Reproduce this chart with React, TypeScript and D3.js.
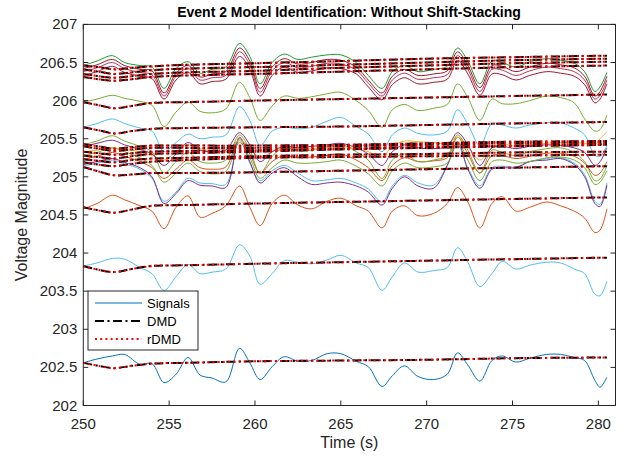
import React from 'react';
import * as d3 from 'd3';

// Sample times (s) shared by every measured signal
const TIME = [250, 250.8, 251.7, 252.4, 253.3, 254.0, 254.7, 255.4, 256.1, 256.8, 257.5, 258.3, 259.1, 259.7, 260.3, 261.0, 261.7, 262.5, 263.3, 264.2, 265.0, 265.9, 266.6, 267.4, 268.0, 268.7, 269.5, 270.4, 271.2, 271.8, 272.4, 273.1, 273.8, 274.4, 275.2, 276.0, 277.0, 277.8, 278.6, 279.2, 279.8, 280.1, 280.5];

// Measured voltage magnitudes
const SIG_GREEN_TOP = [206.46, 206.52, 206.59, 206.50, 206.46, 206.44, 206.16, 206.42, 206.51, 206.36, 206.41, 206.44, 206.75, 206.58, 206.22, 206.50, 206.61, 206.54, 206.57, 206.60, 206.60, 206.50, 206.33, 206.16, 206.38, 206.46, 206.38, 206.41, 206.45, 206.69, 206.52, 206.22, 206.52, 206.50, 206.44, 206.51, 206.55, 206.53, 206.49, 206.38, 206.12, 206.18, 206.37];
const SIG_RED_1 = [206.42, 206.47, 206.54, 206.46, 206.41, 206.39, 206.10, 206.36, 206.46, 206.31, 206.35, 206.38, 206.69, 206.52, 206.16, 206.44, 206.55, 206.48, 206.50, 206.54, 206.53, 206.44, 206.27, 206.10, 206.32, 206.41, 206.33, 206.35, 206.39, 206.64, 206.46, 206.17, 206.46, 206.45, 206.38, 206.44, 206.49, 206.47, 206.43, 206.32, 206.06, 206.12, 206.32];
const SIG_RED_2 = [206.38, 206.43, 206.50, 206.42, 206.37, 206.34, 206.06, 206.32, 206.42, 206.27, 206.30, 206.33, 206.64, 206.47, 206.11, 206.39, 206.50, 206.43, 206.45, 206.49, 206.48, 206.40, 206.23, 206.06, 206.27, 206.36, 206.28, 206.30, 206.34, 206.59, 206.41, 206.12, 206.41, 206.40, 206.33, 206.39, 206.44, 206.42, 206.38, 206.27, 206.02, 206.07, 206.27];
const SIG_RED_3 = [206.33, 206.38, 206.45, 206.37, 206.32, 206.29, 206.02, 206.27, 206.37, 206.22, 206.25, 206.28, 206.58, 206.41, 206.06, 206.33, 206.44, 206.37, 206.39, 206.43, 206.42, 206.35, 206.18, 206.01, 206.21, 206.30, 206.22, 206.24, 206.28, 206.53, 206.35, 206.07, 206.35, 206.34, 206.27, 206.33, 206.38, 206.36, 206.32, 206.21, 205.97, 206.02, 206.22];
const SIG_LIME = [205.98, 206.02, 206.07, 206.03, 205.99, 205.94, 205.66, 205.85, 205.98, 205.86, 205.84, 205.89, 206.24, 206.04, 205.74, 205.93, 206.06, 206.03, 206.05, 206.09, 206.11, 206.00, 205.87, 205.65, 205.88, 205.95, 205.87, 205.90, 205.95, 206.22, 206.04, 205.74, 206.02, 205.96, 205.96, 206.00, 206.06, 206.04, 205.97, 205.76, 205.60, 205.62, 205.81];
const SIG_SKY = [205.65, 205.70, 205.76, 205.70, 205.64, 205.60, 205.33, 205.45, 205.56, 205.50, 205.52, 205.55, 205.92, 205.74, 205.41, 205.60, 205.65, 205.63, 205.65, 205.73, 205.78, 205.66, 205.56, 205.33, 205.55, 205.64, 205.57, 205.55, 205.60, 205.88, 205.69, 205.41, 205.70, 205.68, 205.64, 205.68, 205.71, 205.71, 205.64, 205.55, 205.28, 205.27, 205.41];
const SIG_GREEN_A = [205.42, 205.47, 205.54, 205.47, 205.40, 205.33, 205.05, 205.20, 205.32, 205.20, 205.18, 205.22, 205.55, 205.35, 205.05, 205.27, 205.38, 205.34, 205.35, 205.40, 205.43, 205.33, 205.22, 204.98, 205.22, 205.30, 205.20, 205.22, 205.28, 205.55, 205.35, 205.05, 205.35, 205.32, 205.28, 205.33, 205.37, 205.38, 205.32, 205.20, 204.95, 204.97, 205.15];
const SIG_PURPLE_A = [205.40, 205.44, 205.48, 205.42, 205.36, 205.30, 205.15, 205.30, 205.45, 205.35, 205.33, 205.35, 205.58, 205.42, 205.20, 205.33, 205.40, 205.38, 205.40, 205.42, 205.44, 205.38, 205.30, 205.15, 205.33, 205.42, 205.38, 205.37, 205.40, 205.58, 205.42, 205.15, 205.38, 205.40, 205.37, 205.40, 205.42, 205.41, 205.38, 205.32, 205.15, 205.20, 205.38];
const SIG_YELLOW = [205.33, 205.35, 205.38, 205.36, 205.33, 205.28, 205.22, 205.33, 205.42, 205.37, 205.34, 205.33, 205.48, 205.38, 205.25, 205.33, 205.38, 205.36, 205.37, 205.39, 205.40, 205.37, 205.33, 205.26, 205.40, 205.47, 205.46, 205.45, 205.44, 205.52, 205.40, 205.22, 205.38, 205.43, 205.40, 205.42, 205.44, 205.45, 205.45, 205.44, 205.42, 205.50, 205.59];
const SIG_GREEN_B = [205.28, 205.32, 205.38, 205.33, 205.25, 205.15, 204.93, 205.05, 205.18, 205.07, 205.04, 205.07, 205.45, 205.25, 204.98, 205.12, 205.22, 205.18, 205.18, 205.20, 205.22, 205.14, 205.04, 204.88, 205.08, 205.18, 205.12, 205.13, 205.18, 205.45, 205.22, 204.95, 205.20, 205.22, 205.18, 205.20, 205.25, 205.26, 205.22, 205.12, 204.90, 204.93, 205.08];
const SIG_RUST = [205.23, 205.27, 205.32, 205.27, 205.20, 205.12, 204.98, 205.10, 205.22, 205.12, 205.10, 205.13, 205.50, 205.30, 205.05, 205.20, 205.28, 205.25, 205.26, 205.28, 205.30, 205.22, 205.12, 204.95, 205.15, 205.25, 205.20, 205.21, 205.25, 205.52, 205.30, 205.05, 205.28, 205.28, 205.24, 205.27, 205.31, 205.31, 205.27, 205.18, 205.02, 205.05, 205.20];
const SIG_CYAN_B = [205.14, 205.18, 205.22, 205.17, 205.10, 204.98, 204.68, 204.80, 204.98, 204.92, 204.91, 204.90, 205.48, 205.18, 204.95, 205.08, 205.15, 205.05, 204.95, 204.96, 204.98, 204.92, 204.84, 204.67, 204.88, 205.02, 204.92, 204.89, 205.15, 205.42, 205.12, 204.88, 205.12, 205.14, 205.13, 205.20, 205.24, 205.25, 205.18, 205.03, 204.68, 204.64, 204.92];
const SIG_PLUM = [205.16, 205.20, 205.24, 205.19, 205.12, 205.00, 204.65, 204.78, 204.95, 204.89, 204.88, 204.86, 205.52, 205.20, 204.92, 205.05, 205.12, 205.00, 204.90, 204.92, 204.93, 204.88, 204.80, 204.63, 204.85, 205.00, 204.88, 204.85, 205.15, 205.46, 205.10, 204.85, 205.10, 205.12, 205.12, 205.20, 205.22, 205.24, 205.16, 205.00, 204.65, 204.61, 204.89];
const SIG_ORANGE = [204.58, 204.65, 204.76, 204.70, 204.62, 204.55, 204.32, 204.60, 204.75, 204.47, 204.52, 204.62, 204.88, 204.60, 204.36, 204.65, 204.76, 204.63, 204.58, 204.68, 204.72, 204.62, 204.55, 204.33, 204.55, 204.62, 204.49, 204.52, 204.65, 204.86, 204.67, 204.33, 204.65, 204.74, 204.55, 204.60, 204.67, 204.62, 204.55, 204.46, 204.27, 204.30, 204.58];
const SIG_CYAN = [203.83, 203.87, 203.93, 203.92, 203.81, 203.73, 203.51, 203.69, 203.85, 203.73, 203.75, 203.79, 204.11, 203.96, 203.59, 203.73, 203.90, 203.88, 203.86, 203.91, 203.97, 203.87, 203.81, 203.51, 203.69, 203.87, 203.75, 203.77, 203.81, 204.07, 203.88, 203.56, 203.73, 203.89, 203.79, 203.84, 203.88, 203.87, 203.79, 203.73, 203.46, 203.44, 203.63];
const SIG_BLUE = [202.56, 202.61, 202.65, 202.67, 202.54, 202.55, 202.30, 202.41, 202.63, 202.40, 202.36, 202.31, 202.75, 202.56, 202.34, 202.51, 202.64, 202.58, 202.59, 202.68, 202.68, 202.58, 202.51, 202.25, 202.39, 202.52, 202.38, 202.34, 202.41, 202.69, 202.53, 202.32, 202.59, 202.65, 202.57, 202.62, 202.67, 202.67, 202.63, 202.59, 202.33, 202.24, 202.37];

// Sample times (s) for the DMD / rDMD reconstructions
const FIT_TIME = [250, 250.9, 251.8, 252.8, 254, 256, 260, 265, 270, 275, 280.5];

const FIT_GREEN_TOP = [206.46, 206.44, 206.41, 206.43, 206.45, 206.47, 206.49, 206.52, 206.55, 206.57, 206.59];
const FIT_RED_1 = [206.41, 206.38, 206.35, 206.37, 206.40, 206.42, 206.44, 206.47, 206.50, 206.53, 206.55];
const FIT_RED_2 = [206.35, 206.32, 206.30, 206.32, 206.35, 206.37, 206.39, 206.43, 206.46, 206.49, 206.51];
const FIT_RED_3 = [206.31, 206.28, 206.26, 206.28, 206.31, 206.33, 206.35, 206.38, 206.41, 206.44, 206.46];
const FIT_LIME = [205.98, 205.94, 205.90, 205.93, 205.97, 205.98, 206.00, 206.02, 206.04, 206.06, 206.08];
const FIT_SKY = [205.65, 205.61, 205.57, 205.60, 205.63, 205.64, 205.65, 205.66, 205.68, 205.70, 205.72];
const FIT_GREEN_A = [205.43, 205.40, 205.37, 205.39, 205.41, 205.41, 205.41, 205.42, 205.44, 205.46, 205.47];
const FIT_PURPLE_A = [205.40, 205.37, 205.34, 205.36, 205.38, 205.38, 205.38, 205.40, 205.42, 205.44, 205.45];
const FIT_YELLOW = [205.33, 205.31, 205.29, 205.31, 205.33, 205.34, 205.35, 205.37, 205.39, 205.41, 205.43];
const FIT_GREEN_B = [205.28, 205.26, 205.24, 205.27, 205.30, 205.31, 205.33, 205.36, 205.38, 205.40, 205.42];
const FIT_RUST = [205.23, 205.21, 205.19, 205.22, 205.24, 205.25, 205.27, 205.29, 205.30, 205.32, 205.33];
const FIT_CYAN_B = [205.19, 205.16, 205.14, 205.17, 205.20, 205.22, 205.25, 205.26, 205.27, 205.28, 205.29];
const FIT_PLUM = [205.13, 205.07, 205.02, 205.03, 205.05, 205.05, 205.06, 205.08, 205.10, 205.12, 205.14];
const FIT_ORANGE = [204.60, 204.56, 204.53, 204.57, 204.62, 204.63, 204.65, 204.67, 204.69, 204.71, 204.73];
const FIT_CYAN = [203.83, 203.78, 203.75, 203.79, 203.83, 203.84, 203.86, 203.88, 203.90, 203.92, 203.94];
const FIT_BLUE = [202.56, 202.52, 202.49, 202.52, 202.55, 202.56, 202.58, 202.59, 202.60, 202.62, 202.63];

const X_TICKS = [250, 255, 260, 265, 270, 275, 280];
const Y_TICKS = [202, 202.5, 203, 203.5, 204, 204.5, 205, 205.5, 206, 206.5, 207];
const LEGEND_LABELS = ['Signals', 'DMD', 'rDMD'];

// Drawing order: first listed is drawn underneath
const SERIES = [
  { sig: SIG_BLUE, fit: FIT_BLUE, color: '#0072BD' },
  { sig: SIG_CYAN, fit: FIT_CYAN, color: '#4DBEEE' },
  { sig: SIG_ORANGE, fit: FIT_ORANGE, color: '#D95319' },
  { sig: SIG_CYAN_B, fit: FIT_CYAN_B, color: '#4DBEEE' },
  { sig: SIG_PLUM, fit: FIT_PLUM, color: '#7E2F8E' },
  { sig: SIG_RUST, fit: FIT_RUST, color: '#D95319' },
  { sig: SIG_GREEN_B, fit: FIT_GREEN_B, color: '#77AC30' },
  { sig: SIG_YELLOW, fit: FIT_YELLOW, color: '#EDB120' },
  { sig: SIG_GREEN_A, fit: FIT_GREEN_A, color: '#77AC30' },
  { sig: SIG_PURPLE_A, fit: FIT_PURPLE_A, color: '#7E2F8E' },
  { sig: SIG_SKY, fit: FIT_SKY, color: '#4DBEEE' },
  { sig: SIG_LIME, fit: FIT_LIME, color: '#77AC30' },
  { sig: SIG_RED_3, fit: FIT_RED_3, color: '#A2142F' },
  { sig: SIG_RED_2, fit: FIT_RED_2, color: '#B8324F' },
  { sig: SIG_RED_1, fit: FIT_RED_1, color: '#A2142F' },
  { sig: SIG_GREEN_TOP, fit: FIT_GREEN_TOP, color: '#1F9A2A' },
];

const FONT = '"Liberation Sans", Arial, Helvetica, sans-serif';
const AXIS_COLOR = '#262626';

const PLOT = { left: 83.3, right: 615.5, top: 24.4, bottom: 405.5 };

const DMD_DASH = '9,3.5,2,3.5';
const RDMD_DASH = '2,3.2';

export default function App() {
  const x = d3.scaleLinear().domain([250, 281]).range([PLOT.left, PLOT.right]);
  const y = d3.scaleLinear().domain([202, 207]).range([PLOT.bottom, PLOT.top]);

  const pathFor = (times: number[], vals: number[]) =>
    d3
      .line<number>()
      .x((_, i) => x(times[i]))
      .y((v) => y(v))
      .curve(d3.curveCatmullRom.alpha(0.5))(vals) || '';

  const tickLen = 5;
  const legend = { x: 88, y: 291, w: 110, h: 59 };

  return (
    <svg
      width={630}
      height={457}
      style={{ position: 'absolute', left: 0, top: 0, background: '#fff' }}
      fontFamily={FONT}
    >
      <rect x={0} y={0} width={630} height={457} fill="#fff" />
      <defs>
        <clipPath id="plot-clip">
          <rect x={PLOT.left} y={PLOT.top} width={PLOT.right - PLOT.left} height={PLOT.bottom - PLOT.top} />
        </clipPath>
      </defs>

      <g clipPath="url(#plot-clip)">
        {SERIES.map((s, i) => (
          <path key={'s' + i} d={pathFor(TIME, s.sig)} fill="none" stroke={s.color} strokeWidth={1} />
        ))}
        {SERIES.map((s, i) => (
          <path key={'d' + i} d={pathFor(FIT_TIME, s.fit)} fill="none" stroke="#000" strokeWidth={2} strokeDasharray={DMD_DASH} />
        ))}
        {SERIES.map((s, i) => (
          <path key={'r' + i} d={pathFor(FIT_TIME, s.fit)} fill="none" stroke="#FF0000" strokeWidth={2} strokeDasharray={RDMD_DASH} />
        ))}
      </g>

      {/* axes box */}
      <rect
        x={PLOT.left}
        y={PLOT.top}
        width={PLOT.right - PLOT.left}
        height={PLOT.bottom - PLOT.top}
        fill="none"
        stroke={AXIS_COLOR}
        strokeWidth={1}
      />

      {X_TICKS.map((t) => (
        <g key={'xt' + t}>
          <line x1={x(t)} x2={x(t)} y1={PLOT.bottom} y2={PLOT.bottom - tickLen} stroke={AXIS_COLOR} />
          <line x1={x(t)} x2={x(t)} y1={PLOT.top} y2={PLOT.top + tickLen} stroke={AXIS_COLOR} />
          <text x={x(t)} y={PLOT.bottom + 23} textAnchor="middle" fontSize={15} fill={AXIS_COLOR}>
            {t}
          </text>
        </g>
      ))}

      {Y_TICKS.map((v) => (
        <g key={'yt' + v}>
          <line x1={PLOT.left} x2={PLOT.left + tickLen} y1={y(v)} y2={y(v)} stroke={AXIS_COLOR} />
          <line x1={PLOT.right} x2={PLOT.right - tickLen} y1={y(v)} y2={y(v)} stroke={AXIS_COLOR} />
          <text x={PLOT.left - 6} y={y(v) + 5} textAnchor="end" fontSize={15} fill={AXIS_COLOR}>
            {String(v)}
          </text>
        </g>
      ))}

      <text x={349} y={17} textAnchor="middle" fontSize={14} fontWeight="bold" fill="#000">
        Event 2 Model Identification: Without Shift-Stacking
      </text>
      <text x={(PLOT.left + PLOT.right) / 2} y={448} textAnchor="middle" fontSize={16} fill={AXIS_COLOR}>
        Time (s)
      </text>
      <text
        transform={`translate(27, ${(PLOT.top + PLOT.bottom) / 2}) rotate(-90)`}
        textAnchor="middle"
        fontSize={16}
        fill={AXIS_COLOR}
      >
        Voltage Magnitude
      </text>

      {/* legend */}
      <g>
        <rect x={legend.x} y={legend.y} width={legend.w} height={legend.h} fill="#fff" stroke={AXIS_COLOR} strokeWidth={1} />
        {LEGEND_LABELS.map((label, i) => {
          const ly = legend.y + 12 + i * 18;
          return (
            <g key={label}>
              {i === 0 && <line x1={95} x2={142} y1={ly} y2={ly} stroke="#0072BD" strokeWidth={1} />}
              {i === 1 && <line x1={95} x2={142} y1={ly} y2={ly} stroke="#000" strokeWidth={2} strokeDasharray={DMD_DASH} />}
              {i === 2 && <line x1={95} x2={142} y1={ly} y2={ly} stroke="#FF0000" strokeWidth={2} strokeDasharray={RDMD_DASH} />}
              <text x={147} y={ly + 5} fontSize={13} fill="#000">
                {label}
              </text>
            </g>
          );
        })}
      </g>
    </svg>
  );
}
